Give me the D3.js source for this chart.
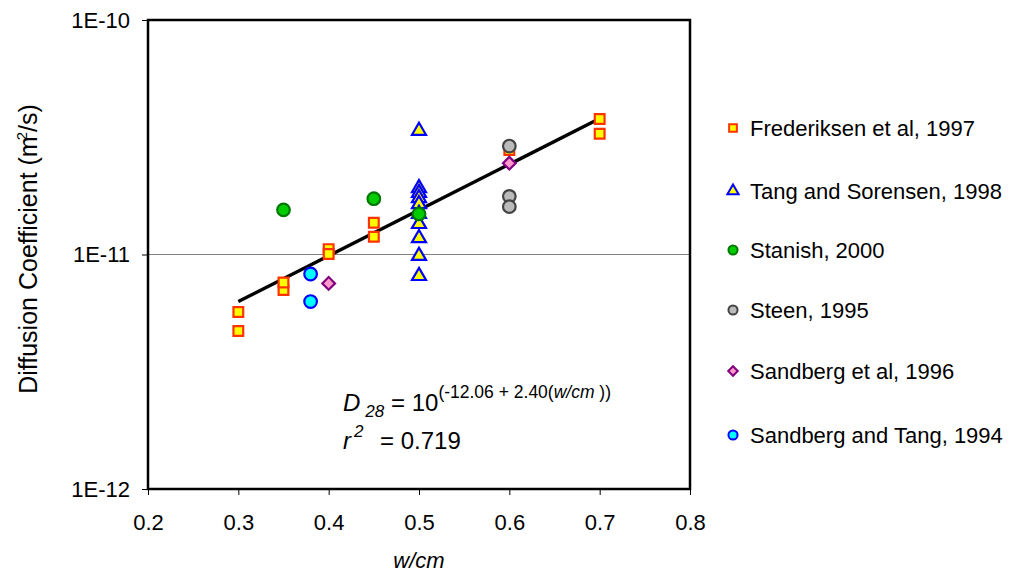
<!DOCTYPE html>
<html><head><meta charset="utf-8">
<script src="https://cdn.jsdelivr.net/npm/d3@7"></script>
<style>body{margin:0;background:#fff;} text{font-family:"Liberation Sans",Arial,sans-serif;}</style>
</head><body><svg id="c" width="1012" height="573"></svg>
<script>
const xTicks = [0.2,0.3,0.4,0.5,0.6,0.7,0.8];
const yTicks = [1e-12,1e-11,1e-10];
const yTickLabels = ["1E-12","1E-11","1E-10"];
const seriesNames = ["Frederiksen et al, 1997","Tang and Sorensen, 1998","Stanish, 2000","Steen, 1995","Sandberg et al, 1996","Sandberg and Tang, 1994"];
const frederiksenX = [0.3,0.3,0.35,0.35,0.4,0.4,0.45,0.45,0.6,0.7,0.7];
const frederiksenY = [5.69e-12,4.72e-12,7.06e-12,7.6e-12,1.054e-11,1.005e-11,1.365e-11,1.19e-11,2.79e-11,3.78e-11,3.27e-11];
const tangX = [0.5,0.5,0.5,0.5,0.5,0.5,0.5,0.5,0.5,0.5];
const tangY = [3.37e-11,1.92e-11,1.83e-11,1.74e-11,1.64e-11,1.49e-11,1.35e-11,1.175e-11,9.87e-12,8.1e-12];
const stanishX = [0.35,0.45,0.5];
const stanishY = [1.55e-11,1.73e-11,1.49e-11];
const steenX = [0.6,0.6,0.6];
const steenY = [2.9e-11,1.77e-11,1.6e-11];
const sandbergX = [0.4,0.6];
const sandbergY = [7.53e-12,2.45e-11];
const sandTangX = [0.38,0.38];
const sandTangY = [8.26e-12,6.3e-12];
const fitX = [0.3,0.7];
const fitY = [6.3e-12,3.8e-11];

const svg = d3.select("#c");
const L=148,R=690,T=20,B=489;
const x = d3.scaleLinear().domain([0.2,0.8]).range([L,R]);
const y = d3.scaleLog().domain([1e-12,1e-10]).range([B,T]);

svg.append("line").attr("x1",L).attr("x2",R).attr("y1",y(1e-11)).attr("y2",y(1e-11)).attr("stroke","#808080").attr("stroke-width",1);

const xAxis = d3.axisBottom(x).tickValues(xTicks).tickFormat(d3.format(".1f")).tickSize(6).tickSizeOuter(0);
const gx = svg.append("g").attr("transform",`translate(0,${B})`).call(xAxis);
gx.attr("font-size",null).attr("font-family",null);
gx.select(".domain").remove();
gx.selectAll("line").attr("stroke","#000");
gx.selectAll("text").style("font-size","22px").attr("y",25).attr("dy","0.71em").attr("fill","#000");
const yAxis = d3.axisLeft(y).tickValues(yTicks).tickFormat((d,i)=>yTickLabels[i]).tickSize(6).tickSizeOuter(0);
const gy = svg.append("g").attr("transform",`translate(${L},0)`).call(yAxis);
gy.attr("font-size",null).attr("font-family",null);
gy.select(".domain").remove();
gy.selectAll("line").attr("stroke","#000");
gy.selectAll("text").style("font-size","22px").attr("x",-18).attr("fill","#000");

svg.append("rect").attr("x",L).attr("y",T).attr("width",R-L).attr("height",B-T).attr("fill","none").attr("stroke","#000").attr("stroke-width",2.5);

svg.append("path").datum(fitX.map((v,i)=>[v,fitY[i]]))
  .attr("d",d3.line().x(d=>x(d[0])).y(d=>y(d[1])))
  .attr("fill","none").attr("stroke","#000").attr("stroke-width",3.4);

const styles = [
  {shape:d3.symbolSquare, fill:"#FFFF00", stroke:"#FF3300", size:95, lsize:60, rot:0},
  {shape:d3.symbolTriangle, fill:"#FFFF00", stroke:"#0000FF", size:85, lsize:55, rot:0},
  {shape:d3.symbolCircle, fill:"#00CC00", stroke:"#007700", size:125, lsize:65, rot:0},
  {shape:d3.symbolCircle, fill:"#BBBBBB", stroke:"#444444", size:125, lsize:65, rot:0},
  {shape:d3.symbolSquare, fill:"#FF99CC", stroke:"#800080", size:80, lsize:45, rot:45},
  {shape:d3.symbolCircle, fill:"#00FFFF", stroke:"#0000FF", size:125, lsize:65, rot:0}
];
const seriesX=[frederiksenX,tangX,stanishX,steenX,sandbergX,sandTangX];
const seriesY=[frederiksenY,tangY,stanishY,steenY,sandbergY,sandTangY];
seriesX.forEach((xs,s)=>{
  const st=styles[s];
  svg.append("g").selectAll("path").data(xs.map((v,i)=>[v,seriesY[s][i]])).join("path")
    .attr("transform",d=>`translate(${x(d[0])},${y(d[1])}) rotate(${st.rot})`)
    .attr("d",d3.symbol(st.shape,st.size))
    .attr("fill",st.fill).attr("stroke",st.stroke).attr("stroke-width",2.2);
});

const legY=[128,191,250,310,371,435];
seriesNames.forEach((n,i)=>{
  const st=styles[i];
  svg.append("path").attr("transform",`translate(733,${legY[i]}) rotate(${st.rot})`).attr("d",d3.symbol(st.shape,st.lsize))
    .attr("fill",st.fill).attr("stroke",st.stroke).attr("stroke-width",2);
  svg.append("text").attr("x",750).attr("y",legY[i]).attr("dy","0.35em").style("font-size","22px").text(n);
});

svg.append("text").attr("x",(L+R)/2).attr("y",568).attr("text-anchor","middle").style("font-size","22px").attr("font-style","italic").text("w/cm");
const yt = svg.append("text").attr("transform","translate(37,249) rotate(-90)").attr("text-anchor","middle").style("font-size","25px");
yt.append("tspan").text("Diffusion Coefficient (m");
yt.append("tspan").style("font-size","15px").attr("dy","-10").attr("dx","-4").text("2");
yt.append("tspan").attr("dy","10").text("/s)");

const eq = svg.append("text").attr("x",343).attr("y",411).style("font-size","24px");
eq.append("tspan").attr("font-style","italic").text("D");
eq.append("tspan").attr("font-style","italic").style("font-size","17px").attr("dy","6").attr("dx","5").text("28");
eq.append("tspan").attr("dy","-6").attr("x",391).text("= 10");
eq.append("tspan").style("font-size","17.5px").attr("dy","-13").text("(-12.06 + 2.40(");
eq.append("tspan").style("font-size","17.5px").attr("font-style","italic").text("w/cm");
eq.append("tspan").style("font-size","17.5px").text(" ))");
const r2 = svg.append("text").attr("x",343).attr("y",449).style("font-size","24px");
r2.append("tspan").attr("font-style","italic").text("r");
r2.append("tspan").attr("font-style","italic").style("font-size","17px").attr("dy","-12").attr("dx","3").text("2");
r2.append("tspan").attr("dy","12").attr("x",380).text("= 0.719");
</script></body></html>
